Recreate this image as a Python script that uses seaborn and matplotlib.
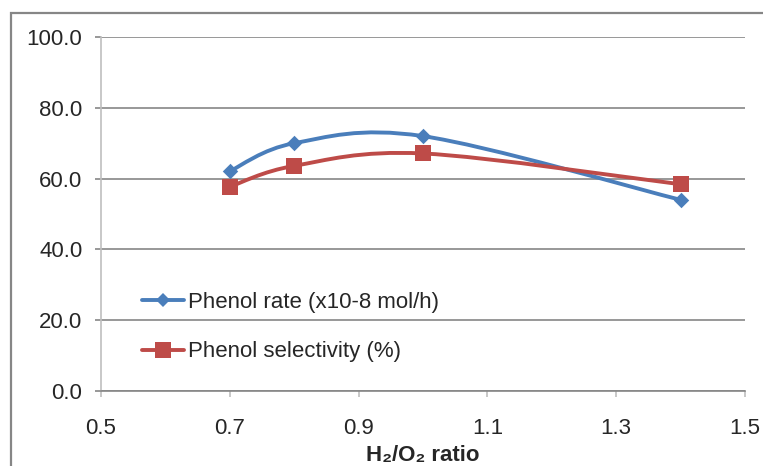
import matplotlib
matplotlib.use("Agg")
import matplotlib.pyplot as plt
from matplotlib.path import Path
from matplotlib.patches import PathPatch, Rectangle
from matplotlib.lines import Line2D
import numpy as np
import pandas as pd
import seaborn as sns

# ── Data ──────────────────────────────────────────────────────────────
h2_o2_ratio = [0.7, 0.8, 1.0, 1.4]
phenol_rate = [62.1, 70.0, 72.0, 54.0]          # x10-8 mol/h
phenol_selectivity = [57.7, 63.6, 67.1, 58.4]   # %

x_ticks = [0.5, 0.7, 0.9, 1.1, 1.3, 1.5]
y_ticks = [0, 20, 40, 60, 80, 100]

BLUE = "#4a7ebb"
RED = "#be4b48"
GRID = "#868686"
LIGHT = "#bfbfbf"

sns.set_style("white")
plt.rcParams["font.family"] = ["Liberation Sans", "DejaVu Sans"]


def smooth_path(xs, ys):
    """Excel-style smoothed line: cubic Bezier through the points."""
    pts = np.column_stack([xs, ys]).astype(float)
    n = len(pts)
    verts = [pts[0]]
    codes = [Path.MOVETO]
    for i in range(n - 1):
        p0 = pts[max(i - 1, 0)]
        p1 = pts[i]
        p2 = pts[i + 1]
        p3 = pts[min(i + 2, n - 1)]
        c1 = p1 + (p2 - p0) / 6.0
        c2 = p2 - (p3 - p1) / 6.0
        verts += [c1, c2, p2]
        codes += [Path.CURVE4] * 3
    return Path(verts, codes)


df = pd.DataFrame({
    "ratio": h2_o2_ratio * 2,
    "value": phenol_rate + phenol_selectivity,
    "series": ["rate"] * len(h2_o2_ratio) + ["sel"] * len(h2_o2_ratio),
})

W, H = 763, 466
fig = plt.figure(figsize=(W / 100, H / 100), dpi=100)
ax = fig.add_axes([101 / W, 1 - 391 / H, (745 - 101) / W, (391 - 37) / H])

# outer chart frame (runs off the right / bottom of the image)
fig.patches.append(Rectangle((11 / W, -0.2), 1.2, 1.2 - 13 / H,
                             transform=fig.transFigure, fill=False,
                             edgecolor=GRID, linewidth=1.6, zorder=0))

# smoothed curves
for ys, col in [(phenol_rate, BLUE), (phenol_selectivity, RED)]:
    ax.add_patch(PathPatch(smooth_path(h2_o2_ratio, ys), facecolor="none",
                           edgecolor=col, linewidth=2.8, zorder=3,
                           capstyle="round"))

# markers
sns.scatterplot(data=df[df.series == "rate"], x="ratio", y="value", ax=ax,
                marker="D", s=62, color=BLUE, linewidth=0, zorder=4, legend=False)
sns.scatterplot(data=df[df.series == "sel"], x="ratio", y="value", ax=ax,
                marker="s", s=125, color=RED, linewidth=0, zorder=4, legend=False)

ax.set_xlim(0.5, 1.5)
ax.set_ylim(0, 100)
ax.set_xticks(x_ticks)
ax.set_xticklabels([f"{v:.1f}" for v in x_ticks])
ax.set_yticks(y_ticks)
ax.set_yticklabels([f"{v:.1f}" for v in y_ticks])

ax.yaxis.grid(True, color=GRID, linewidth=1.2)
ax.xaxis.grid(False)
ax.set_axisbelow(True)

for side in ["top", "right"]:
    ax.spines[side].set_visible(False)
ax.spines["left"].set_color(LIGHT)
ax.spines["left"].set_linewidth(1.2)
ax.spines["bottom"].set_color(GRID)
ax.spines["bottom"].set_linewidth(1.2)

ax.tick_params(axis="y", direction="out", length=4.5, width=1.2, color=GRID,
               labelsize=16, pad=9, left=True)
ax.tick_params(axis="x", direction="out", length=4.5, width=1.2, color=LIGHT,
               labelsize=16, pad=15, bottom=True)

ax.set_xlabel("H₂/O₂ ratio", fontsize=16, fontweight="bold", labelpad=4)
ax.set_ylabel("")

handles = [
    Line2D([], [], color=BLUE, linewidth=2.8, marker="D", markersize=7.5,
           markeredgewidth=0),
    Line2D([], [], color=RED, linewidth=2.8, marker="s", markersize=11,
           markeredgewidth=0),
]
labels = ["Phenol rate (x10-8 mol/h)", "Phenol selectivity (%)"]
ax.legend(handles, labels, loc="upper left", bbox_to_anchor=(0.05, 0.305),
          frameon=False, fontsize=16, handlelength=1.9, handletextpad=0.15,
          labelspacing=1.28, borderaxespad=0)

fig.savefig("out.png", dpi=100)
